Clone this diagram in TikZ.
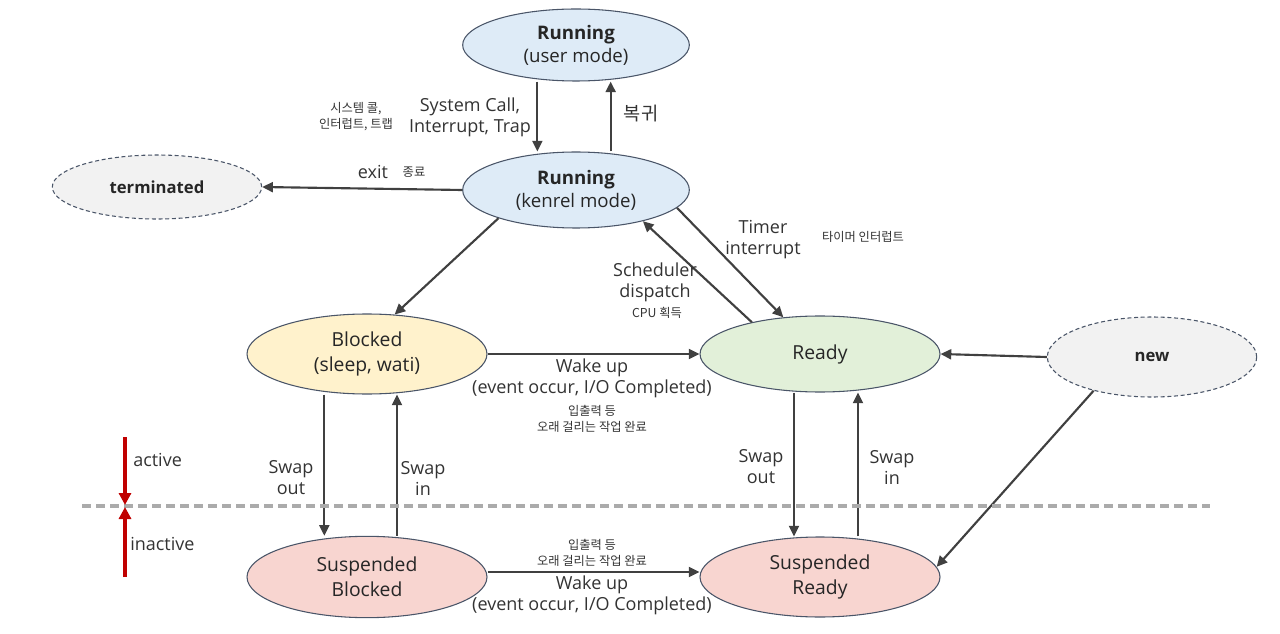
\documentclass[tikz,border=0pt]{standalone}
\usepackage{fontspec}
\setmainfont{Open Sans}
\newfontfamily\kr{Noto Sans CJK KR}
\usetikzlibrary{shapes.geometric,arrows.meta}

\definecolor{edgecol}{HTML}{4A5568}
\definecolor{arrowgray}{HTML}{404040}
\definecolor{userblue}{HTML}{DEEBF7}
\definecolor{blockyellow}{HTML}{FFF2CC}
\definecolor{readygreen}{HTML}{E2F0D9}
\definecolor{susred}{HTML}{F8D5D0}
\definecolor{endgray}{HTML}{F2F2F2}
\definecolor{activered}{HTML}{C00000}
\definecolor{linegray}{HTML}{ABABAB}

\tikzstyle{state} = [ellipse, draw=edgecol, line width=0.8pt, inner sep=0pt, text=black!85, align=center, font=\fontsize{14.5}{19}\selectfont]
\tikzstyle{runstate} = [state, fill=userblue, minimum width=170pt, minimum height=54pt, font=\fontsize{14}{17.25}\selectfont]
\tikzstyle{endstate} = [state, fill=endgray, dash pattern=on 3pt off 2pt, font=\bfseries\fontsize{12.5}{14}\selectfont]
\tikzstyle{flow} = [draw=arrowgray, line width=1.6pt, -{Triangle[length=8pt,width=7.5pt]}]
\tikzstyle{lbl} = [align=center, text=black!80, inner sep=0pt, font=\fontsize{13.5}{15.75}\selectfont]
\tikzstyle{krlbl} = [align=center, text=black!80, inner sep=0pt, font=\kr\fontsize{9.2}{12}\selectfont]

\begin{document}
\begin{tikzpicture}[x=0.75pt,y=-0.75pt]
    \useasboundingbox (0,0) rectangle (1280,634);
    % States
    \node (user) at (576,45) [runstate] {\textbf{Running}\\(user mode)};
    \node (kernel) at (576,190) [runstate, minimum height=57pt] {\textbf{Running}\\(kenrel mode)};
    \node (term) at (157,187) [endstate, minimum width=157pt, minimum height=48pt] {terminated};
    \node (blocked) at (367,354) [state, fill=blockyellow, minimum width=180pt, minimum height=60pt] {Blocked\\(sleep, wati)};
    \node (ready) at (820,354) [state, fill=readygreen, minimum width=180pt, minimum height=57pt] {Ready};
    \node (new) at (1152,357) [endstate, minimum width=157pt, minimum height=60pt] {new};
    \node (sblocked) at (367,577) [state, fill=susred, minimum width=180pt, minimum height=61pt] {Suspended\\Blocked};
    \node (sready) at (820,577) [state, fill=susred, minimum width=180pt, minimum height=60pt] {Suspended\\Ready};

    % Transitions
    \draw[flow] ([xshift=-29pt]user.south) -- ([xshift=-29pt]kernel.north);
    \draw[flow] ([xshift=26pt]kernel.north) -- ([xshift=26pt]user.south);
    \draw[flow] (kernel.west) -- (term.east);
    \draw[flow] (kernel.200) -- (blocked.55);
    \draw[flow] (kernel.-10) -- (ready.135);
    \draw[flow] (ready.155) -- (kernel.-25);
    \draw[flow] (blocked.east) -- (ready.west);
    \draw[flow] (new.west) -- (ready.east);
    \draw[flow] (new.-150) -- (sready.5);
    \draw[flow] ([xshift=-32pt]blocked.south) -- ([xshift=-32pt]sblocked.north);
    \draw[flow] ([xshift=22.5pt]sblocked.north) -- ([xshift=22.5pt]blocked.south);
    \draw[flow] ([xshift=-19.5pt]ready.south) -- ([xshift=-19.5pt]sready.north);
    \draw[flow] ([xshift=28.5pt]sready.north) -- ([xshift=28.5pt]ready.south);
    \draw[flow] ([yshift=3.75pt]sblocked.east) -- ([yshift=3.75pt]sready.west);

    % Labels
    \node (syskr) at (356,117) [krlbl] {시스템 콜,\\인터럽트, 트랩};
    \node (sys) at (470,117) [lbl] {System Call,\\Interrupt, Trap};
    \node (back) at (641,114) [lbl, font=\kr\fontsize{14}{16}\selectfont] {복귀};
    \node (exit) at (373,172) [lbl] {exit};
    \node (exitkr) at (414,172) [krlbl] {종료};
    \node (timer) at (763,240) [lbl] {Timer\\interrupt};
    \node (timerkr) at (863,237) [krlbl] {타이머 인터럽트};
    \node (sched) at (655,282) [lbl] {Scheduler\\dispatch};
    \node (schedkr) at (657,313) [krlbl] {CPU 획득};
    \node (wake) at (592,378) [lbl, font=\fontsize{13.5}{15.5}\selectfont] {Wake up\\(event occur, I/O Completed)};
    \node (wakekr) at (592,419) [krlbl] {입출력 등\\오래 걸리는 작업 완료};
    \node (swakekr) at (592,553) [krlbl] {입출력 등\\오래 걸리는 작업 완료};
    \node (swake) at (592,595) [lbl, font=\fontsize{13.5}{15.5}\selectfont] {Wake up\\(event occur, I/O Completed)};
    \node (bout) at (291,478) [lbl] {Swap\\out};
    \node (bin) at (423,478) [lbl] {Swap\\in};
    \node (rout) at (761,467) [lbl] {Swap\\out};
    \node (rin) at (892,467) [lbl] {Swap\\in};

    % Active / inactive border
    \coordinate (lineL) at (82,506);
    \coordinate (lineR) at (1210,506);
    \draw[linegray, line width=3pt, dash pattern=on 7pt off 3.5pt] (lineL) -- (lineR);
    \coordinate (acttop) at (125,437);
    \coordinate (actend) at (125,505);
    \coordinate (inactbot) at (125,577);
    \coordinate (inactend) at (125,507);
    \draw[activered, line width=2.3pt, -{Triangle[length=9pt,width=9pt]}] (acttop) -- (actend);
    \draw[activered, line width=2.3pt, -{Triangle[length=9pt,width=9pt]}] (inactbot) -- (inactend);
    \node (active) at (133,460) [lbl, anchor=west] {active};
    \node (inactive) at (130,544) [lbl, anchor=west] {inactive};
\end{tikzpicture}
\end{document}
